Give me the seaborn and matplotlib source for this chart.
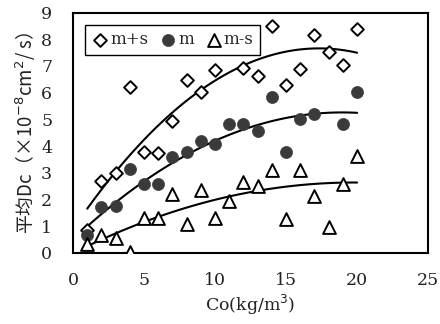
import numpy as np
import pandas as pd
import matplotlib
matplotlib.use("Agg")
import matplotlib.pyplot as plt
import seaborn as sns

# ---- data ----
co = [1, 2, 3, 4, 5, 6, 7, 8, 9, 10, 11, 12, 13, 14, 15, 16, 17, 18, 19, 20]
m_plus_s = [0.87, 2.69, 2.97, 6.21, 3.79, 3.75, 4.92, 6.49, 6.01, 6.84,
            7.70, 6.93, 6.61, 8.49, 6.27, 6.89, 8.18, 7.52, 7.03, 8.37]
m_co = [1, 2, 3, 4, 5, 6, 7, 8, 9, 10, 11, 12, 13, 14, 15, 16, 17, 19, 20]
m_mean = [0.65, 1.70, 1.77, 3.12, 2.57, 2.57, 3.58, 3.78, 4.19, 4.08,
          4.83, 4.83, 4.58, 5.83, 3.79, 5.03, 5.21, 4.83, 6.01]
m_minus_s = [0.34, 0.65, 0.56, 0.02, 1.32, 1.32, 2.20, 1.07, 2.35, 1.32,
             1.93, 2.66, 2.50, 3.10, 1.25, 3.10, 2.13, 0.97, 2.56, 3.64]

# trend curves
fit_x = [1, 3, 5, 7, 9, 10, 12, 14, 16, 17, 18, 20]
fit_upper = [1.76, 3.00, 4.10, 5.20, 6.10, 6.50, 7.10, 7.45, 7.63, 7.66, 7.62, 7.47]
fit_mid = [0.97, 1.85, 2.69, 3.50, 3.95, 4.10, 4.60, 4.95, 5.13, 5.20, 5.24, 5.27]
fit_low = [0.35, 0.64, 1.12, 1.46, 1.81, 2.00, 2.30, 2.47, 2.55, 2.57, 2.59, 2.60]

legend_labels = ["m+s", "m", "m-s"]
xticks = [0, 5, 10, 15, 20, 25]
yticks = [0, 1, 2, 3, 4, 5, 6, 7, 8, 9]

sns.set_theme(style="white")
plt.rcParams["font.family"] = ["DejaVu Serif", "Noto Sans CJK SC", "DejaVu Sans"]

fig = plt.figure(figsize=(4.4, 3.24), dpi=100)
ax = fig.add_axes([0.166, 0.22, 0.807, 0.741])

df_ps = pd.DataFrame({"x": co, "y": m_plus_s})
df_m = pd.DataFrame({"x": m_co, "y": m_mean})
df_ms = pd.DataFrame({"x": co, "y": m_minus_s})

for fy in (fit_upper, fit_mid, fit_low):
    sns.regplot(x=fit_x, y=fy, order=2, scatter=False, ci=None, truncate=True,
                line_kws=dict(color="black", lw=1.5), ax=ax)

sns.scatterplot(data=df_ps, x="x", y="y", marker="D", s=42, facecolor="white",
                edgecolor="black", linewidth=1.4, ax=ax, label=legend_labels[0], zorder=3)
sns.scatterplot(data=df_m, x="x", y="y", marker="o", s=75, color="#3a3a3a",
                edgecolor="#3a3a3a", linewidth=0.5, ax=ax, label=legend_labels[1], zorder=3)
sns.scatterplot(data=df_ms, x="x", y="y", marker="^", s=85, facecolor="white",
                edgecolor="black", linewidth=1.4, ax=ax, label=legend_labels[2], zorder=3)

ax.set_xlim(0, 25)
ax.set_ylim(0, 9)
ax.set_xticks(xticks)
ax.set_yticks(yticks)
ax.tick_params(axis="both", direction="in", length=4, width=1, color="black",
               labelsize=12.5, labelcolor="#222222")
ax.tick_params(axis="y", pad=15)
ax.tick_params(axis="x", pad=14)
for sp in ax.spines.values():
    sp.set_color("black")
    sp.set_linewidth(1.5)

ax.set_xlabel("Co(kg/m$^3$)", fontsize=12.5, color="#222222", labelpad=3)
ax.set_ylabel("平均Dc（×10$^{-8}$cm$^2$/ s）", fontsize=13.5, color="#222222", labelpad=2,
              family=["Noto Sans CJK SC", "DejaVu Sans"])

leg = ax.legend(loc="upper left", ncol=3, frameon=True, fancybox=False,
                edgecolor="black", framealpha=1, fontsize=12, handletextpad=0.1,
                columnspacing=0.7, borderpad=0.4, handlelength=1.0,
                bbox_to_anchor=(0.01, 0.985))
leg.get_frame().set_linewidth(1.0)
leg.set_zorder(5)

fig.savefig("out.png", dpi=100)
